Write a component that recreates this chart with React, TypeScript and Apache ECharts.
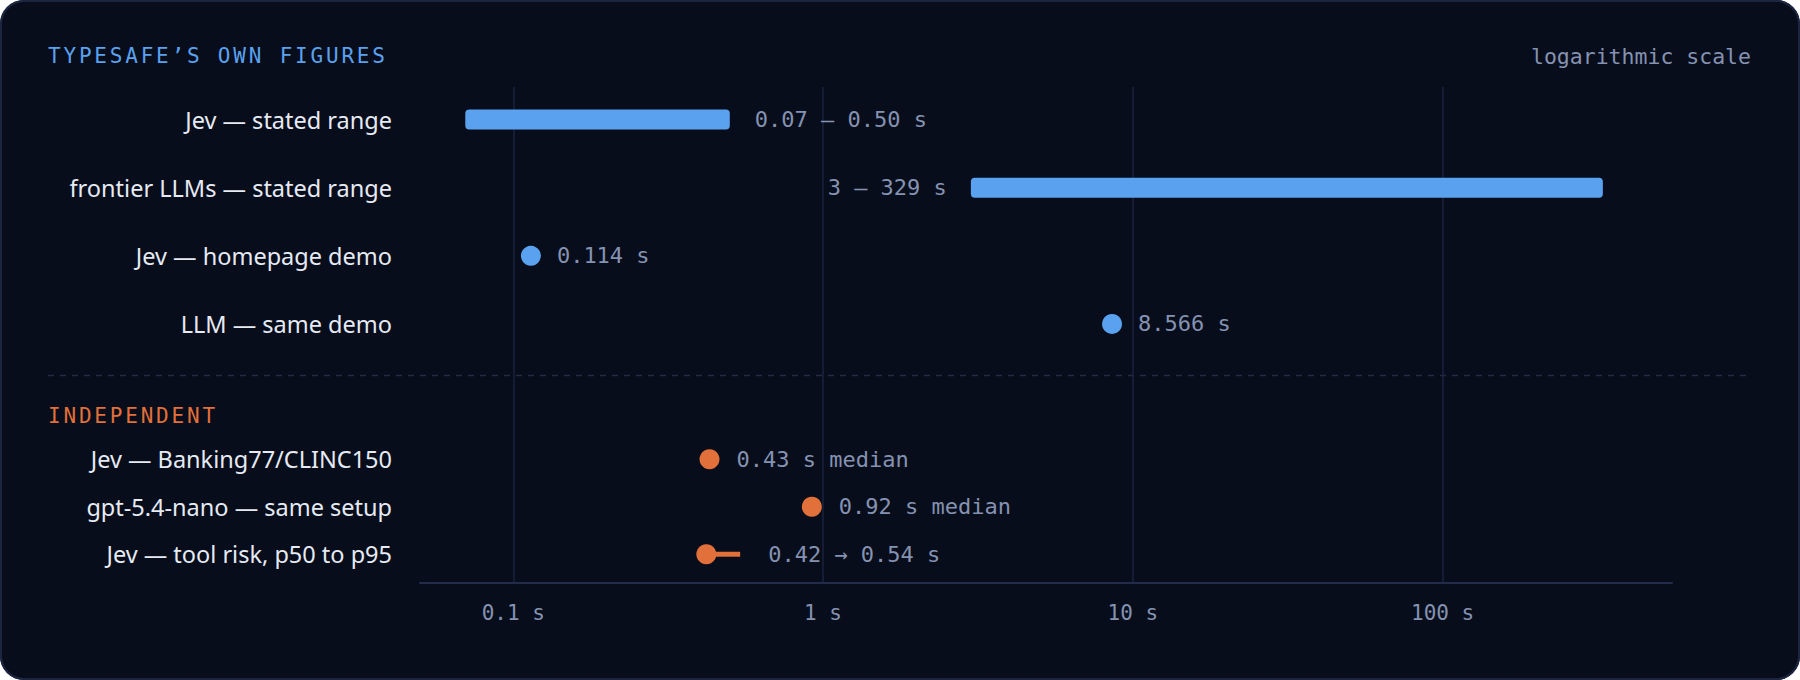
import React, { useEffect, useRef } from 'react';
import * as echarts from 'echarts';

// rows, top group (Typesafe's own figures) and bottom group (independent)
const topRows = ['Jev — stated range', 'frontier LLMs — stated range', 'Jev — homepage demo', 'LLM — same demo'];
const bottomRows = ['Jev — Banking77/CLINC150', 'gpt-5.4-nano — same setup', 'Jev — tool risk, p50 to p95'];

// stated ranges, seconds
const rangeLow = [0.07, 3];
const rangeHigh = [0.5, 329];
const rangeLabels = ['0.07 – 0.50 s', '3 – 329 s'];

// homepage demo timings, seconds
const demoValues = [0.114, 8.566];
const demoLabels = ['0.114 s', '8.566 s'];

// independent medians, seconds
const medianValues = [0.43, 0.92];
const medianLabels = ['0.43 s median', '0.92 s median'];

// tool risk p50 -> p95
const toolRisk = [0.42, 0.54];
const toolRiskLabel = '0.42 → 0.54 s';

const sectionTitles = ['TYPESAFE’S OWN FIGURES', 'INDEPENDENT'];

const axisMin = 0.05;
const axisMax = 550;

const BLUE = '#5aa1ef';
const ORANGE = '#e2703a';
const GREY = '#8592b1';
const WHITE = '#e6eaf3';
const GRID = '#1b2340';
const MONO = '"DejaVu Sans Mono", monospace';
const SANS = '"Noto Sans", sans-serif';

const isDecade = (v: number) => Math.abs(Math.log10(v) - Math.round(Math.log10(v))) < 1e-6;

const App: React.FC = () => {
  const chartRef = useRef<HTMLDivElement>(null);

  useEffect(() => {
    const chart = echarts.init(chartRef.current!, null, { renderer: 'svg' });

    const hiddenX = (gridIndex: number) => ({
      type: 'log' as const,
      gridIndex,
      min: axisMin,
      max: axisMax,
      logBase: 10,
      show: false,
      splitLine: { show: false },
    });

    const catY = (gridIndex: number, data: string[]) => ({
      type: 'category' as const,
      gridIndex,
      data,
      inverse: true,
      axisLine: { show: false },
      axisTick: { show: false },
      splitLine: { show: false },
      axisLabel: {
        margin: 28,
        color: WHITE,
        fontFamily: SANS,
        fontSize: 23.5,
      },
    });

    const option: echarts.EChartsOption = {
      animation: false,
      backgroundColor: 'transparent',
      grid: [
        { left: 420, top: 87, width: 1252, height: 496 },
        { left: 420, top: 85.5, width: 1252, height: 272.5 },
        { left: 420, top: 435.5, width: 1252, height: 142.5 },
      ],
      xAxis: [
        {
          type: 'log',
          gridIndex: 0,
          min: axisMin,
          max: axisMax,
          logBase: 10,
          axisLine: { show: true, lineStyle: { color: '#222b4a', width: 2 } },
          axisTick: { show: false },
          axisLabel: {
            showMinLabel: false,
            showMaxLabel: false,
            margin: 19,
            color: GREY,
            fontFamily: MONO,
            fontSize: 21,
            formatter: (v: number) => (isDecade(v) ? `${Number(v.toPrecision(3))} s` : ''),
          },
          splitLine: {
            show: true,
            showMinLine: false,
            showMaxLine: false,
            lineStyle: { color: GRID, width: 1.5 },
          },
        },
        hiddenX(1),
        hiddenX(2),
      ],
      yAxis: [
        { type: 'value', gridIndex: 0, show: false, splitLine: { show: false } },
        catY(1, topRows),
        catY(2, bottomRows),
      ],
      graphic: [
        {
          type: 'text',
          left: 48,
          top: 45,
          style: { text: sectionTitles[0], fill: BLUE, fontFamily: MONO, fontSize: 21 },
        },
        {
          type: 'text',
          right: 49,
          top: 45,
          style: { text: 'logarithmic scale', fill: GREY, fontFamily: MONO, fontSize: 21.5 },
        },
        {
          type: 'line',
          shape: { x1: 48, y1: 375.5, x2: 1751, y2: 375.5 },
          style: { stroke: '#232b45', lineWidth: 1.5, lineDash: [6, 6] },
        },
        {
          type: 'text',
          left: 48,
          top: 405,
          style: { text: sectionTitles[1], fill: ORANGE, fontFamily: MONO, fontSize: 21 },
        },
      ],
      series: [
        {
          type: 'custom',
          name: 'stated ranges',
          xAxisIndex: 1,
          yAxisIndex: 1,
          encode: { x: [0, 1], y: 2 },
          data: rangeLow.map((lo, i) => [lo, rangeHigh[i], i]),
          renderItem: (params: any, api: any) => {
            const i = params.dataIndex;
            const a = api.coord([api.value(0), api.value(2)]);
            const b = api.coord([api.value(1), api.value(2)]);
            const h = 20;
            const right = i === 0;
            return {
              type: 'group',
              children: [
                {
                  type: 'rect',
                  shape: { x: a[0], y: a[1] - h / 2, width: b[0] - a[0], height: h, r: 4 },
                  style: { fill: BLUE },
                },
                {
                  type: 'text',
                  style: {
                    x: right ? b[0] + 25 : a[0] - 24,
                    y: a[1],
                    text: rangeLabels[i],
                    fill: GREY,
                    fontFamily: MONO,
                    fontSize: 22,
                    align: right ? 'left' : 'right',
                    verticalAlign: 'middle',
                  },
                },
              ],
            };
          },
        },
        {
          type: 'scatter',
          name: 'homepage demo',
          xAxisIndex: 1,
          yAxisIndex: 1,
          symbolSize: 20,
          itemStyle: { color: BLUE, opacity: 1 },
          data: demoValues.map((v, i) => [v, topRows[2 + i]]),
          label: {
            show: true,
            position: 'right',
            distance: 16,
            color: GREY,
            fontFamily: MONO,
            fontSize: 22,
            formatter: (p: any) => demoLabels[p.dataIndex],
          },
        },
        {
          type: 'scatter',
          name: 'independent medians',
          xAxisIndex: 2,
          yAxisIndex: 2,
          symbolSize: 20,
          itemStyle: { color: ORANGE, opacity: 1 },
          data: medianValues.map((v, i) => [v, bottomRows[i]]),
          label: {
            show: true,
            position: 'right',
            distance: 17,
            color: GREY,
            fontFamily: MONO,
            fontSize: 22,
            formatter: (p: any) => medianLabels[p.dataIndex],
          },
        },
        {
          type: 'custom',
          name: 'tool risk',
          xAxisIndex: 2,
          yAxisIndex: 2,
          encode: { x: [0, 1], y: 2 },
          data: [[toolRisk[0], toolRisk[1], 2]],
          renderItem: (_params: any, api: any) => {
            const a = api.coord([api.value(0), api.value(2)]);
            const b = api.coord([api.value(1), api.value(2)]);
            return {
              type: 'group',
              children: [
                {
                  type: 'line',
                  shape: { x1: a[0], y1: a[1], x2: b[0], y2: b[1] },
                  style: { stroke: ORANGE, lineWidth: 5 },
                },
                {
                  type: 'circle',
                  shape: { cx: a[0], cy: a[1], r: 10 },
                  style: { fill: ORANGE },
                },
                {
                  type: 'text',
                  style: {
                    x: b[0] + 28,
                    y: b[1],
                    text: toolRiskLabel,
                    fill: GREY,
                    fontFamily: MONO,
                    fontSize: 22,
                    align: 'left',
                    verticalAlign: 'middle',
                  },
                },
              ],
            };
          },
        },
      ],
    };

    chart.setOption(option);

    // zrender has no letter-spacing, so set it on the svg text of the section titles
    const spaceTitles = () => {
      chartRef.current?.querySelectorAll('text').forEach((t) => {
        if (sectionTitles.includes(t.textContent ?? '')) t.setAttribute('letter-spacing', '2.8');
      });
    };
    spaceTitles();
    chart.on('finished', spaceTitles);

    return () => {
      chart.dispose();
    };
  }, []);

  return (
    <div
      style={{
        position: 'fixed',
        left: 0,
        top: 0,
        width: 1800,
        height: 680,
        background: '#070d1b',
        borderRadius: 24,
        boxShadow: 'inset 0 0 0 2px #1c2540',
        overflow: 'hidden',
      }}
    >
      <div ref={chartRef} style={{ width: 1800, height: 680 }} />
    </div>
  );
};

export default App;
